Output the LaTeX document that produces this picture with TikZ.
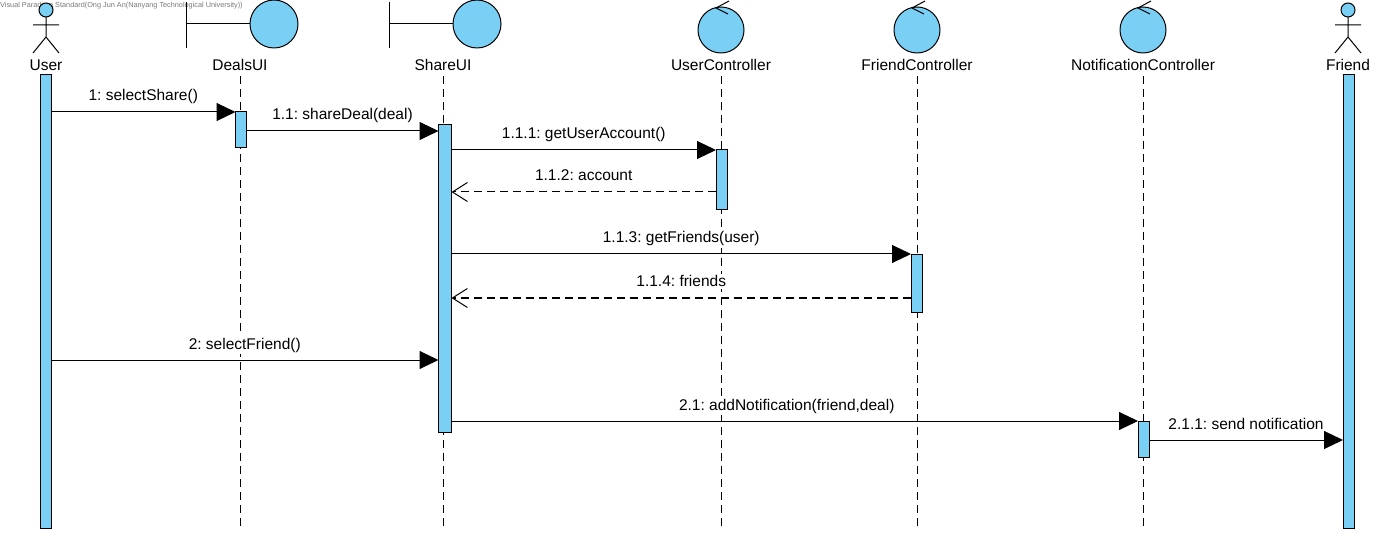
\documentclass[tikz,border=0pt]{standalone}
\usepackage{fontspec}
\setmainfont{Liberation Sans}
\usetikzlibrary{arrows.meta}
\definecolor{ltblue}{RGB}{122,207,245}
\definecolor{wmgray}{RGB}{120,120,120}
\frenchspacing
\begin{document}
\begin{tikzpicture}[x=1pt,y=-1pt,
  bar/.style={draw=black, fill=ltblue, line width=1pt, minimum width=11pt, inner sep=0pt, outer sep=0pt},
  life/.style={draw=black, line width=1pt, dash pattern=on 8pt off 5pt},
  msg/.style={draw=black, line width=1pt, -{Triangle[length=19pt,width=18pt]}},
  ret/.style={draw=black, line width=1pt, dash pattern=on 8pt off 5pt, -{Straight Barb[length=15pt,width=19pt,line width=1pt]}},
  lbl/.style={font=\fontsize{15.5}{18}\selectfont\frenchspacing, anchor=base, inner sep=1.5pt, fill=white, yshift=11pt},
  headlbl/.style={font=\fontsize{15.5}{18}\selectfont, anchor=base, inner sep=0pt},
  icon/.style={draw=black, line width=1pt, fill=ltblue},
  stroke/.style={draw=black, line width=1pt},
  actor/.pic={
    \draw[icon] (0,10) circle[radius=7];
    \draw[stroke] (0,17)--(0,37) (-13,25)--(13,25) (-13,53)--(0,37)--(13,53);
  },
  boundary/.pic={
    \draw[stroke] (-54,2)--(-54,48) (-54,24)--(10,24);
    \draw[icon] (34,24) circle[radius=24];
  },
  control/.pic={
    \draw[icon] (0,30) circle[radius=23];
    \draw[stroke] (8,1)--(-5,8)--(7,14);
  }]
\useasboundingbox (0,0) rectangle (1397,537);

% watermark
\node[anchor=west, inner sep=0pt, text=wmgray, font=\fontsize{7.3}{8}\selectfont] (wm) at (0,6) {Visual Paradigm Standard(Ong Jun An(Nanyang Technological University))};

% heads
\pic at (46,0) {actor};
\pic at (240,0) {boundary};
\pic at (443,0) {boundary};
\pic at (721,0) {control};
\pic at (917,0) {control};
\pic at (1143,0) {control};
\pic at (1348,0) {actor};

\node[headlbl] (hUser) at (46,71) {User};
\node[headlbl] (hDeals) at (240,71) {DealsUI};
\node[headlbl] (hShare) at (443,71) {ShareUI};
\node[headlbl] (hUC) at (721,71) {UserController};
\node[headlbl] (hFC) at (917,71) {FriendController};
\node[headlbl] (hNC) at (1143,71) {NotificationController};
\node[headlbl] (hFriend) at (1348,71) {Friend};

% lifelines
\coordinate (lD0) at (240,76); \coordinate (lD1) at (240,530);
\coordinate (lS0) at (443,76); \coordinate (lS1) at (443,530);
\coordinate (lU0) at (721,76); \coordinate (lU1) at (721,530);
\coordinate (lF0) at (917,76); \coordinate (lF1) at (917,530);
\coordinate (lN0) at (1143,76); \coordinate (lN1) at (1143,530);
\draw[life] (lD0) -- (lD1);
\draw[life] (lS0) -- (lS1);
\draw[life] (lU0) -- (lU1);
\draw[life] (lF0) -- (lF1);
\draw[life] (lN0) -- (lN1);

% activation bars
\node[bar, minimum height=453pt] (uB) at (45.5,301.5) {};
\node[bar, minimum height=453pt] (frB) at (1348.5,301.5) {};
\node[bar, minimum height=36pt] (dB) at (241,130) {};
\node[bar, minimum height=307pt, minimum width=13pt] (sB) at (445,278.5) {};
\node[bar, minimum height=60pt] (ucB) at (721.5,180) {};
\node[bar, minimum height=57pt] (fcB) at (916.5,283.5) {};
\node[bar, minimum height=36pt] (ncB) at (1143.5,439) {};

% messages
\draw[msg] (uB.east |- 0,112) -- node[lbl] {1: selectShare()} (dB.west |- 0,112);
\draw[msg] (dB.east |- 0,131) -- node[lbl] {1.1: shareDeal(deal)} (sB.west |- 0,131);
\draw[msg] (sB.east |- 0,150) -- node[lbl] {1.1.1: getUserAccount()} (ucB.west |- 0,150);
\draw[ret] (ucB.west |- 0,192) -- node[lbl] {1.1.2: account} (sB.east |- 0,192);
\draw[msg] (sB.east |- 0,254) -- node[lbl] {1.1.3: getFriends(user)} (fcB.west |- 0,254);
\draw[ret] (fcB.west |- 0,298) -- node[lbl] {1.1.4: friends} (sB.east |- 0,298);
\draw[msg] (uB.east |- 0,360) -- node[lbl] {2: selectFriend()} (sB.west |- 0,360);
\draw[msg] (sB.east |- 0,421) -- node[lbl, xshift=-8pt] {2.1: addNotification(friend,deal)} (ncB.west |- 0,421);
\draw[msg] (ncB.east |- 0,440) -- node[lbl] {2.1.1: send notification} (frB.west |- 0,440);
\end{tikzpicture}
\end{document}
